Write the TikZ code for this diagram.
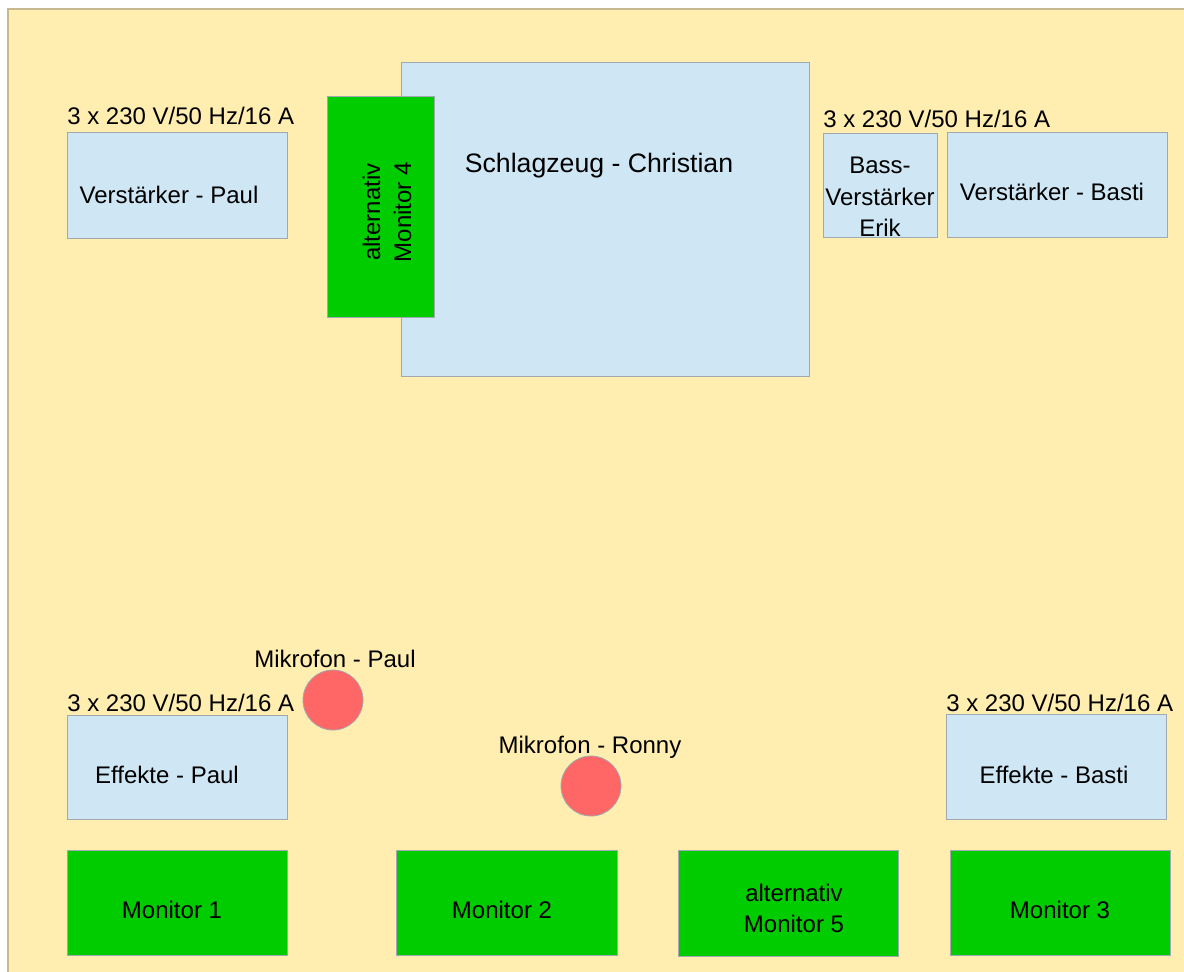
\documentclass[tikz,border=0pt]{standalone}
\usepackage{fontspec}
\setmainfont{Liberation Sans}
\usetikzlibrary{fit}
\definecolor{stagebg}{HTML}{FFEEB0}
\definecolor{stageline}{HTML}{C8B890}
\definecolor{paleblue}{HTML}{CFE7F5}
\definecolor{boxline}{HTML}{A0A8B0}
\definecolor{mongreen}{HTML}{00CC00}
\definecolor{micred}{HTML}{FF6666}
\begin{document}
\begin{tikzpicture}[x=0.75pt,y=-0.75pt,
  font=\fontsize{18}{22}\selectfont,
  bluebox/.style={draw=boxline, fill=paleblue, line width=0.6pt, inner sep=0pt},
  greenbox/.style={draw=boxline, fill=mongreen, line width=0.6pt, inner sep=0pt},
  mic/.style={circle, draw=boxline, fill=micred, line width=0.6pt, inner sep=0pt, minimum size=45pt},
  txt/.style={anchor=base, inner sep=0pt, text=black},
  power/.style={anchor=base west, inner sep=0pt, text=black}
]
\useasboundingbox (0,0) rectangle (1184,971);
\fill[white] (0,0) rectangle (1184,971);
\draw[draw=stageline, fill=stagebg, line width=0.8pt] (8,9) rectangle (1200,990);

% top row
\node (vpaul) [bluebox, fit={(67,132) (287,238)}] {};
\node (drums) [bluebox, fit={(401,62) (809,376)}] {};
\node (mon4) [greenbox, fit={(327,96) (434,317)}] {};
\node (bass) [bluebox, fit={(823,133) (937,237)}] {};
\node (vbasti) [bluebox, fit={(947,132) (1167,237)}] {};

\node (pw1) [power] at (67,124) {3 x 230 V/50 Hz/16 A};
\node (pw2) [power] at (823,127) {3 x 230 V/50 Hz/16 A};
\node (t-vpaul) [txt] at (169,203) {Verstärker - Paul};
\node (t-drums) [txt, font=\fontsize{20}{24}\selectfont] at (599,172) {Schlagzeug - Christian};
\node (t-mon4a) [txt, rotate=90] at (380,212) {alternativ};
\node (t-mon4b) [txt, rotate=90] at (411,212) {Monitor 4};
\node (t-bass1) [txt] at (880,173) {Bass-};
\node (t-bass2) [txt] at (880,205) {Verstärker};
\node (t-bass3) [txt] at (880,236) {Erik};
\node (t-vbasti) [txt] at (1052,200) {Verstärker - Basti};

% bottom area
\node (mpaul) [mic] at (333,700) {};
\node (mronny) [mic] at (591,786) {};
\node (t-mpaul) [txt] at (335,667) {Mikrofon - Paul};
\node (t-mronny) [txt] at (590,753) {Mikrofon - Ronny};

\node (epaul) [bluebox, fit={(67,715) (287,819)}] {};
\node (ebasti) [bluebox, fit={(946,714) (1166,819)}] {};
\node (pw3) [power] at (67,711) {3 x 230 V/50 Hz/16 A};
\node (pw4) [power] at (946,711) {3 x 230 V/50 Hz/16 A};
\node (t-epaul) [txt] at (167,783) {Effekte - Paul};
\node (t-ebasti) [txt] at (1054,783) {Effekte - Basti};

\node (mon1) [greenbox, fit={(67,850) (287,955)}] {};
\node (mon2) [greenbox, fit={(396,850) (617,955)}] {};
\node (mon5) [greenbox, fit={(678,850) (898,956)}] {};
\node (mon3) [greenbox, fit={(950,850) (1170,955)}] {};
\node (t-mon1) [txt] at (172,918) {Monitor 1};
\node (t-mon2) [txt] at (502,918) {Monitor 2};
\node (t-mon5a) [txt] at (794,901) {alternativ};
\node (t-mon5b) [txt] at (794,932) {Monitor 5};
\node (t-mon3) [txt] at (1060,918) {Monitor 3};
\end{tikzpicture}
\end{document}
